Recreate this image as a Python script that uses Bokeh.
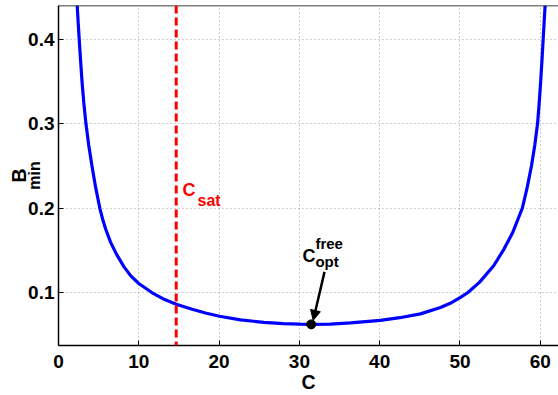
from bokeh.plotting import figure
from bokeh.models import (Range1d, FixedTicker, Span, Label, Arrow, NormalHead,
                          LinearAxis)
from bokeh.embed import file_html
from bokeh.resources import INLINE

# ---- data ----
C_vals = [2.33, 2.45, 2.58, 2.75, 2.93, 3.15, 3.42, 3.76, 4.17, 4.62, 5.15, 5.50,
          5.85, 6.48, 7.20, 8.14, 9.00, 10.00, 11.67, 13.00, 14.66, 16.65, 18.30,
          20.05, 22.67, 25.57, 28.00, 30.05, 31.47, 33.87, 36.36, 40.10, 42.50,
          45.08, 47.57, 49.00, 50.06, 50.95, 52.45, 54.20, 55.50, 56.55, 57.76,
          58.38, 58.90, 59.32, 59.66, 59.87, 60.05, 60.21, 60.36, 60.48, 60.60]
B_vals = [0.440, 0.420, 0.400, 0.375, 0.350, 0.325, 0.300, 0.275, 0.250, 0.225,
          0.200, 0.187, 0.176, 0.160, 0.146, 0.131, 0.120, 0.111, 0.100, 0.093,
          0.0865, 0.0805, 0.0760, 0.0722, 0.0680, 0.0650, 0.0636, 0.0629, 0.0627,
          0.0630, 0.0643, 0.0674, 0.0705, 0.0750, 0.0825, 0.0885, 0.0945, 0.1000,
          0.1126, 0.1320, 0.1520, 0.1710, 0.2000, 0.2250, 0.2500, 0.2750, 0.3000,
          0.3250, 0.3500, 0.3750, 0.4000, 0.4200, 0.4400]
C_sat = 14.66
C_opt = [31.47]
B_opt = [0.0626]
x_ticks = [0, 10, 20, 30, 40, 50, 60]
y_ticks = [0.1, 0.2, 0.3, 0.4]
Y_TOP = 0.44

FONT = "Liberation Sans"

p = figure(width=558, height=395, output_backend="svg", toolbar_location=None,
           x_range=Range1d(0, 62.27), y_range=Range1d(0.0376, Y_TOP),
           min_border_left=58, min_border_right=0, min_border_top=5,
           min_border_bottom=48, background_fill_color="white",
           border_fill_color="white")
p.outline_line_color = None

for ax in (p.xaxis[0], p.yaxis[0]):
    ax.major_tick_in = 5
    ax.major_tick_out = 0
    ax.minor_tick_in = 0
    ax.minor_tick_out = 0
    ax.axis_line_width = 1.5
    ax.axis_line_color = "black"
    ax.major_tick_line_color = "black"
    ax.major_tick_line_width = 1
    ax.major_label_text_font = FONT
    ax.major_label_text_font_style = "bold"
    ax.major_label_text_font_size = "19px"
    ax.major_label_text_color = "black"

p.xaxis.ticker = FixedTicker(ticks=x_ticks)
p.yaxis.ticker = FixedTicker(ticks=y_ticks)
p.xaxis.major_label_standoff = 9
p.yaxis.major_label_standoff = 4
p.xaxis.axis_label = "C"
p.xaxis.axis_label_text_font = FONT
p.xaxis.axis_label_text_font_style = "bold"
p.xaxis.axis_label_text_font_size = "19.5px"
p.xaxis.axis_label_text_color = "black"
p.xaxis.axis_label_standoff = 0

# y-axis label "B" with subscript "min": two label-only axes on the left
def label_axis(text, size, center, standoff):
    ax = LinearAxis(ticker=FixedTicker(ticks=[]), bounds=(center - 0.001, center + 0.001),
                    axis_line_color=None, major_tick_line_color=None,
                    minor_tick_line_color=None, major_tick_out=0, major_tick_in=0,
                    minor_tick_out=0, minor_tick_in=0, major_label_standoff=0,
                    axis_label=text, axis_label_standoff=standoff,
                    axis_label_text_font=FONT, axis_label_text_font_style="bold",
                    axis_label_text_font_size=size, axis_label_text_color="black")
    p.add_layout(ax, "left")

label_axis("min", "16px", 0.26, -17)
label_axis("B", "19.5px", 0.217, -7)

p.xgrid.ticker = FixedTicker(ticks=x_ticks)
p.ygrid.ticker = FixedTicker(ticks=y_ticks)
for g in (p.xgrid[0], p.ygrid[0]):
    g.grid_line_color = "#9a9a9a"
    g.grid_line_dash = "1 3"
    g.grid_line_width = 1

# top border of the box
p.add_layout(Span(location=Y_TOP, dimension="width", line_color="black",
                  line_width=1.5))

# curve
p.line(C_vals, B_vals, line_color="blue", line_width=3.2)

# saturation line
p.add_layout(Span(location=C_sat, dimension="height", line_color="red",
                  line_dash="8 4", line_width=3))

# optimum point and arrow
p.scatter(C_opt, B_opt, size=9, fill_color="black", line_color="black")
arrow_start = (C_opt[0] + 1.66, B_opt[0] + 0.0621)
arrow_end = (C_opt[0] + 0.25, B_opt[0] + 0.0048)
p.add_layout(Arrow(x_start=arrow_start[0], y_start=arrow_start[1],
                   x_end=arrow_end[0], y_end=arrow_end[1], line_width=2.5,
                   line_color="black",
                   end=NormalHead(size=10, fill_color="black", line_color="black")))

def lab(text, x, y, size, color="black"):
    p.add_layout(Label(text=text, x=x, y=y, text_font=FONT, text_font_style="bold",
                       text_font_size=size, text_color=color, text_align="left",
                       text_baseline="alphabetic"))

# C_sat label
lab("C", 15.44, 0.2212, "18px", color="red")
lab("sat", 17.31, 0.2094, "16px", color="red")

# C_opt^free label
lab("C", 30.39, 0.1441, "18px")
lab("free", 32.0, 0.1582, "15px")
lab("opt", 32.0, 0.1365, "15px")

open("out.html", "w").write(file_html(p, INLINE))
